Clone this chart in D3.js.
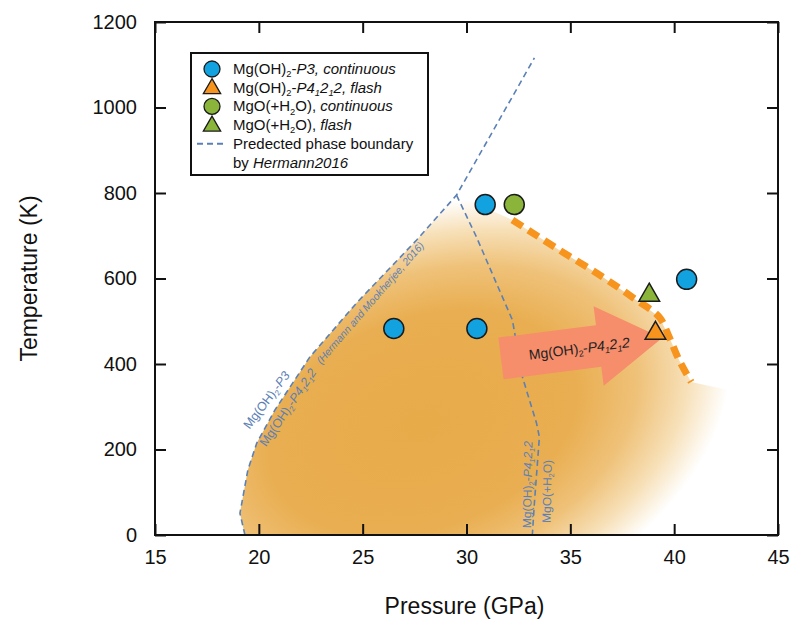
<!DOCTYPE html>
<html>
<head>
<meta charset="utf-8">
<script src="https://cdn.jsdelivr.net/npm/d3@7"></script>
<style>
  body { margin: 0; background: #fff; }
  svg { font-family: "Liberation Sans", Arial, sans-serif; }
</style>
</head>
<body>
<svg id="chart" width="790" height="622"></svg>
<script>
// ---- data ----
const pressureTicks = [15, 20, 25, 30, 35, 40, 45];
const temperatureTicks = [0, 200, 400, 600, 800, 1000, 1200];

const p3Continuous = [[26.5, 483], [30.5, 483], [30.9, 773], [40.6, 598]];
const p41212Flash = [[39.1, 472]];
const mgoContinuous = [[32.3, 773]];
const mgoFlash = [[38.8, 561]];

// predicted boundaries (Hermann 2016)
const boundaryP3 = [[19.33, 0], [19.09, 51], [19.47, 152], [19.9, 215], [20.77, 292], [22.45, 416],
  [24.71, 543], [27.6, 690], [29.52, 795], [33.27, 1116]];
const boundaryMgO = [[29.52, 795], [30.48, 697], [31.44, 589], [32.21, 503], [32.69, 370],
  [33.37, 262], [33.51, 229], [33.27, 75], [33.17, 0]];
// observed flash boundary (thick orange)
const flashBoundary = [[32.21, 737], [34.33, 671], [36.54, 604], [38.17, 550], [39.28, 510],
  [39.76, 463], [40.24, 409], [40.82, 358]];
const arrowFrom = [31.66, 413];
const arrowTo = [39.42, 461];

// ---- layout ----
const margin = { left: 155, right: 12, top: 22, bottom: 87 };
const width = 790, height = 622;
const innerWidth = width - margin.left - margin.right;
const innerHeight = height - margin.top - margin.bottom;

const blueLine = '#5b80b6';
const svg = d3.select('#chart');

const x = d3.scaleLinear().domain([15, 45]).range([0, innerWidth]);
const y = d3.scaleLinear().domain([0, 1200]).range([innerHeight, 0]);

const g = svg.append('g').attr('transform', `translate(${margin.left},${margin.top})`);

// rich text helper: segments {t, sub, it}
function richText(sel, segs, size) {
  let shifted = false;
  segs.forEach(s => {
    const ts = sel.append('tspan').text(s.t);
    if (s.it) ts.attr('font-style', 'italic');
    if (s.sub) {
      ts.attr('font-size', size * 0.62).attr('dy', size * 0.22);
      shifted = true;
    } else if (shifted) {
      ts.attr('dy', -size * 0.22);
      shifted = false;
    }
  });
  return sel;
}
const mgoh = [{ t: 'Mg(OH)' }, { t: '2', sub: true }, { t: '-' }];
const p41212 = [{ t: 'P4', it: true }, { t: '1', sub: true, it: true }, { t: '2', it: true },
  { t: '1', sub: true, it: true }, { t: '2', it: true }];
const mgo = [{ t: 'MgO(+H' }, { t: '2', sub: true }, { t: 'O)' }];

// ---- shaded stability field ----
const defs = svg.append('defs');
const gc = [x(27.9), y(262)];
defs.append('radialGradient')
  .attr('id', 'field')
  .attr('gradientUnits', 'userSpaceOnUse')
  .attr('cx', 0).attr('cy', 0).attr('r', 1)
  .attr('gradientTransform', `translate(${gc[0]},${gc[1]}) rotate(-20) scale(318,210)`)
  .selectAll('stop')
  .data([[0, '#e8ab4a'], [0.5, '#e9ae51'], [0.7, '#efc27a'], [0.86, '#f7e0b8'], [1, '#ffffff']])
  .enter().append('stop')
  .attr('offset', d => d[0]).attr('stop-color', d => d[1]);

const fieldPts = boundaryP3.slice(0, 9).concat(flashBoundary, [[43.5, 330], [44.9, 0]]);
g.append('path')
  .attr('d', d3.line().x(d => x(d[0])).y(d => y(d[1]))(fieldPts) + 'Z')
  .attr('fill', 'url(#field)');

// ---- boundaries ----
const line = d3.line().x(d => x(d[0])).y(d => y(d[1]));
[boundaryP3, boundaryMgO].forEach(b => {
  g.append('path').attr('d', line(b))
    .attr('fill', 'none').attr('stroke', blueLine)
    .attr('stroke-width', 1.6).attr('stroke-dasharray', '6,4');
});

g.append('path')
  .attr('d', d3.line().x(d => x(d[0])).y(d => y(d[1])).curve(d3.curveCatmullRom)(flashBoundary))
  .attr('fill', 'none').attr('stroke', '#f7941d')
  .attr('stroke-width', 7).attr('stroke-dasharray', '12,7');

// ---- arrow ----
const a0 = [x(arrowFrom[0]), y(arrowFrom[1])];
const a1 = [x(arrowTo[0]), y(arrowTo[1])];
const L = Math.hypot(a1[0] - a0[0], a1[1] - a0[1]);
const ang = Math.atan2(a1[1] - a0[1], a1[0] - a0[0]) * 180 / Math.PI;
const arrowG = g.append('g').attr('transform', `translate(${a0[0]},${a0[1]}) rotate(${ang})`);
arrowG.append('path')
  .attr('d', `M0,-21 L${L - 64},-21 L${L - 64},-40 L${L},0 L${L - 64},40 L${L - 64},21 L0,21Z`)
  .attr('fill', '#f68d6b');
richText(arrowG.append('text').attr('x', 28).attr('y', 5).attr('font-size', 14).attr('fill', '#222'),
  mgoh.concat(p41212), 14);

// ---- boundary labels ----
function boundaryLabel(p, angle, segs, size) {
  const t = g.append('text')
    .attr('transform', `translate(${x(p[0])},${y(p[1])}) rotate(${angle})`)
    .attr('font-size', size).attr('fill', blueLine);
  richText(t, segs, size);
  return t;
}
boundaryLabel([19.55, 246], -53, mgoh.concat([{ t: 'P3', it: true }]), 12.5);
boundaryLabel([20.35, 205], -56, mgoh.concat(p41212), 12.5);
boundaryLabel([23.0, 398], -49, [{ t: '(Hermann and Mookherjee, 2016)', it: true }], 10.5);
boundaryLabel([33.1, 16], -89, mgoh.concat(p41212), 12);
boundaryLabel([34.05, 28], -89, mgo, 12);

// ---- markers ----
const sym = d3.symbol().type(d3.symbolTriangle).size(185);
function circles(data, color) {
  g.selectAll(null).data(data).enter().append('circle')
    .attr('cx', d => x(d[0])).attr('cy', d => y(d[1])).attr('r', 10)
    .attr('fill', color).attr('stroke', '#1b1b1b').attr('stroke-width', 1.5);
}
function triangles(data, color) {
  g.selectAll(null).data(data).enter().append('path')
    .attr('d', sym)
    .attr('transform', d => `translate(${x(d[0])},${y(d[1])})`)
    .attr('fill', color).attr('stroke', '#1b1b1b').attr('stroke-width', 1.5);
}
circles(p3Continuous, '#13a2e0');
circles(mgoContinuous, '#8ab43a');
triangles(p41212Flash, '#f7941d');
triangles(mgoFlash, '#8ab43a');

// ---- frame and ticks ----
g.append('rect').attr('width', innerWidth).attr('height', innerHeight)
  .attr('fill', 'none').attr('stroke', '#111').attr('stroke-width', 2);
const tickLen = 11;
const fmt = d3.format('d');
g.append('g').attr('transform', `translate(0,${innerHeight})`)
  .call(d3.axisBottom(x).tickValues(pressureTicks).tickSizeInner(-tickLen).tickSizeOuter(0).tickPadding(15).tickFormat(fmt))
  .call(a => a.select('.domain').remove());
g.append('g')
  .call(d3.axisTop(x).tickValues(pressureTicks).tickSizeInner(-tickLen).tickSizeOuter(0))
  .call(a => a.select('.domain').remove())
  .call(a => a.selectAll('text').remove());
g.append('g')
  .call(d3.axisLeft(y).tickValues(temperatureTicks).tickSizeInner(-tickLen).tickSizeOuter(0).tickPadding(18).tickFormat(fmt))
  .call(a => a.select('.domain').remove());
g.append('g').attr('transform', `translate(${innerWidth},0)`)
  .call(d3.axisRight(y).tickValues(temperatureTicks).tickSizeInner(-tickLen).tickSizeOuter(0))
  .call(a => a.select('.domain').remove())
  .call(a => a.selectAll('text').remove());
g.selectAll('.tick line').attr('stroke', '#111').attr('stroke-width', 2);
g.selectAll('.tick text').attr('font-size', 20).attr('fill', '#111')
  .attr('font-family', '"Liberation Sans", Arial, sans-serif');

svg.append('text').attr('x', margin.left + innerWidth / 2 - 2).attr('y', 614)
  .attr('text-anchor', 'middle').attr('font-size', 23).attr('fill', '#111')
  .text('Pressure (GPa)');
svg.append('text').attr('transform', `translate(37,${margin.top + innerHeight / 2}) rotate(-90)`)
  .attr('text-anchor', 'middle').attr('font-size', 23).attr('fill', '#111')
  .text('Temperature (K)');

// ---- legend ----
const legend = svg.append('g').attr('transform', 'translate(191,53)');
legend.append('rect').attr('width', 237).attr('height', 122)
  .attr('fill', '#fff').attr('stroke', '#111').attr('stroke-width', 2);
const legendItems = [
  { kind: 'circle', color: '#13a2e0', segs: mgoh.concat([{ t: 'P3, continuous', it: true }]) },
  { kind: 'tri', color: '#f7941d', segs: mgoh.concat(p41212, [{ t: ', flash', it: true }]) },
  { kind: 'circle', color: '#8ab43a', segs: mgo.concat([{ t: ', ' }, { t: 'continuous', it: true }]) },
  { kind: 'tri', color: '#8ab43a', segs: mgo.concat([{ t: ', ' }, { t: 'flash', it: true }]) },
  { kind: 'dash', segs: [{ t: 'Predected phase boundary' }] }
];
const rowH = 18.7;
legendItems.forEach((it, i) => {
  const cy = 16 + i * rowH;
  if (it.kind === 'circle') {
    legend.append('circle').attr('cx', 21).attr('cy', cy).attr('r', 8)
      .attr('fill', it.color).attr('stroke', '#1b1b1b').attr('stroke-width', 1.3);
  } else if (it.kind === 'tri') {
    legend.append('path').attr('d', d3.symbol().type(d3.symbolTriangle).size(130))
      .attr('transform', `translate(21,${cy + 1})`)
      .attr('fill', it.color).attr('stroke', '#1b1b1b').attr('stroke-width', 1.3);
  } else {
    legend.append('line').attr('x1', 6).attr('x2', 33).attr('y1', cy).attr('y2', cy)
      .attr('stroke', blueLine).attr('stroke-width', 2).attr('stroke-dasharray', '6,4');
  }
  richText(legend.append('text').attr('x', 42).attr('y', cy + 5).attr('font-size', 15).attr('fill', '#111'),
    it.segs, 15);
});
richText(legend.append('text').attr('x', 42).attr('y', 16 + 5 * rowH + 5).attr('font-size', 15).attr('fill', '#111'),
  [{ t: 'by ' }, { t: 'Hermann2016', it: true }], 15);
</script>
</body>
</html>
